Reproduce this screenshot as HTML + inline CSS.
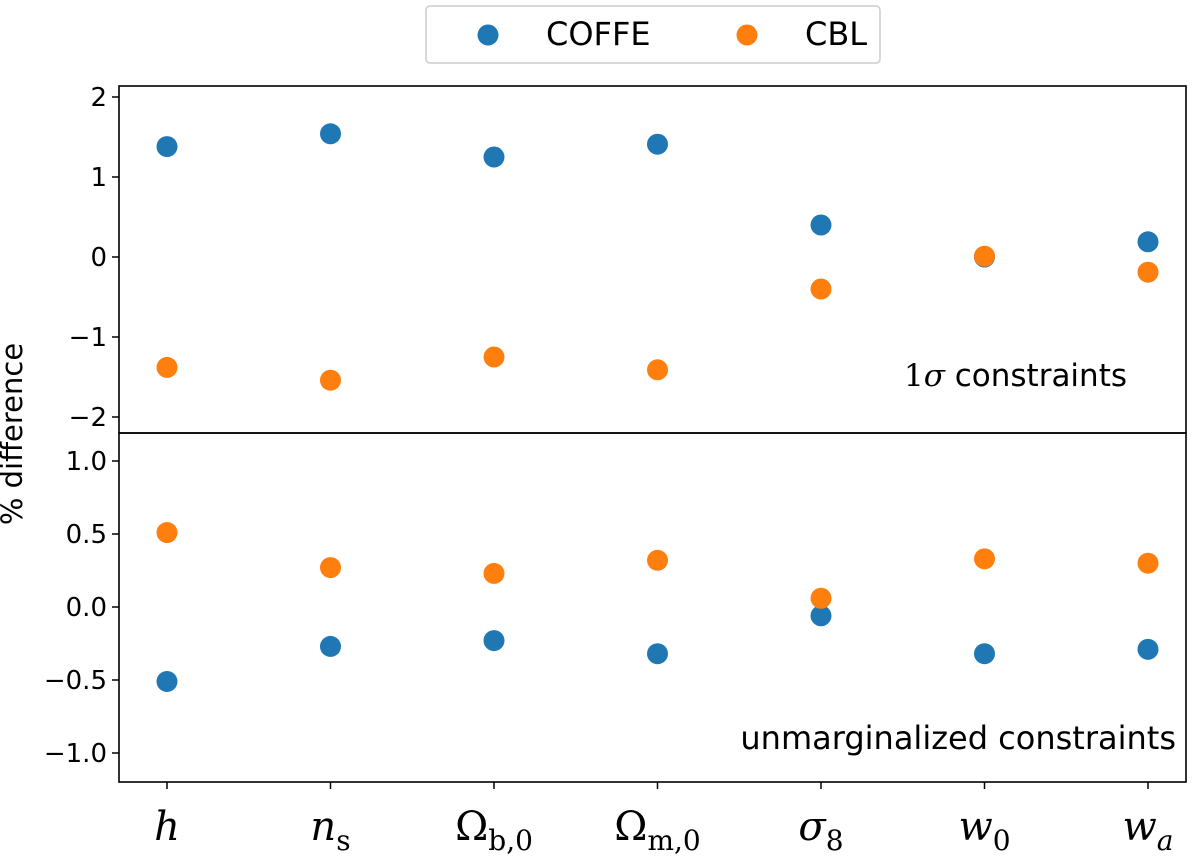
<!DOCTYPE html>
<html><head><meta charset="utf-8"><style>
body{margin:0;background:#fff;}
</style></head><body>
<svg id="chart" width="1200" height="863" xmlns="http://www.w3.org/2000/svg" style="font-family:'DejaVu Sans','Liberation Sans',sans-serif">
<g id="g"></g>
</svg>
<script>
const categories=["h","n_s","Ω_b0","Ω_m0","σ8","w0","wa"];
const topCoffe=[1.38,1.54,1.25,1.41,0.40,0.0,0.19];
const topCbl=[-1.38,-1.54,-1.25,-1.41,-0.40,0.01,-0.19];
const botCoffe=[-0.51,-0.27,-0.23,-0.32,-0.06,-0.32,-0.29];
const botCbl=[0.51,0.27,0.23,0.32,0.06,0.33,0.30];
const topTicks=[2,1,0,-1,-2];
const botTicks=[1.0,0.5,0.0,-0.5,-1.0];
const NS="http://www.w3.org/2000/svg";
const g=document.getElementById('g');
function mk(t,a,txt){const e=document.createElementNS(NS,t);for(const k in a)e.setAttribute(k,a[k]);if(txt!=null)e.textContent=txt;g.appendChild(e);return e;}
const L=119,R=1186;
const x=i=>167+i*((1148-167)/(categories.length-1));
const yTop=v=>257-v*80;
const yBot=v=>607-v*146;
const BLUE="#1f77b4",ORANGE="#ff7f0e";
let e=mk('rect',{x:L,y:86,width:R-L,height:347,fill:'none',stroke:'#000','stroke-width':1.6});


e=mk('rect',{x:L,y:433,width:R-L,height:349,fill:'none',stroke:'#000','stroke-width':1.6});


function fmt(v,d){let s=v.toFixed(d);return s.replace('-','−');}
topTicks.forEach(v=>{const y=yTop(v);mk('line',{x1:L-7,x2:L,y1:y,y2:y,stroke:'#000','stroke-width':1.5});
 e=mk('text',{x:L-12,y:y+9,'text-anchor':'end','font-size':26},fmt(v,0));
 
 });
botTicks.forEach(v=>{const y=yBot(v);mk('line',{x1:L-7,x2:L,y1:y,y2:y,stroke:'#000','stroke-width':1.5});
 e=mk('text',{x:L-12,y:y+9,'text-anchor':'end','font-size':26},fmt(v,1));
 
 });
const labels=[['h',''],['n','s'],['Ω','b,0'],['Ω','m,0'],['σ','8'],['w','0'],['w','a']];
categories.forEach((c,i)=>{const X=x(i);mk('line',{x1:X,x2:X,y1:782,y2:789,stroke:'#000','stroke-width':1.5});
 const t=mk('text',{x:X,y:840,'text-anchor':'middle','font-size':40,style:"font-family:'DejaVu Serif','Liberation Serif',serif"});
 
 
 const a=document.createElementNS(NS,'tspan');a.textContent=labels[i][0];if(labels[i][0]!=='Ω')a.setAttribute('font-style','italic');t.appendChild(a);
 if(labels[i][1]){const b=document.createElementNS(NS,'tspan');b.textContent=labels[i][1];b.setAttribute('font-size',28);b.setAttribute('dy',10);if(labels[i][1]==='a')b.setAttribute('font-style','italic');t.appendChild(b);}
});
function dots(arr,yf,col,name){arr.forEach((v,i)=>{const c=mk('circle',{cx:x(i),cy:yf(v),r:10.5,fill:col});
 
 });}
dots(topCoffe,yTop,BLUE,'top-coffe-point');
dots(topCbl,yTop,ORANGE,'top-cbl-point');
dots(botCoffe,yBot,BLUE,'bottom-coffe-point');
dots(botCbl,yBot,ORANGE,'bottom-cbl-point');
e=mk('text',{x:1127,y:386,'text-anchor':'end','font-size':31});


e.innerHTML='<tspan style="font-family:\'DejaVu Serif\',serif">1<tspan font-style="italic">σ</tspan></tspan> constraints';
e=mk('text',{x:1176,y:749,'text-anchor':'end','font-size':32},'unmarginalized constraints');


e=mk('text',{x:0,y:0,'text-anchor':'middle','font-size':29,transform:'translate(22,434) rotate(-90)'},'% difference');


e=mk('rect',{x:426,y:6,width:454,height:57,rx:4,fill:'#fff',stroke:'#ccc','stroke-width':1.5});


e=mk('circle',{cx:488,cy:35,r:10.5,fill:BLUE});


e=mk('text',{x:546,y:45,'font-size':32},'COFFE');


e=mk('circle',{cx:747,cy:35,r:10.5,fill:ORANGE});


e=mk('text',{x:805,y:45,'font-size':32},'CBL');


</script>
</body></html>
